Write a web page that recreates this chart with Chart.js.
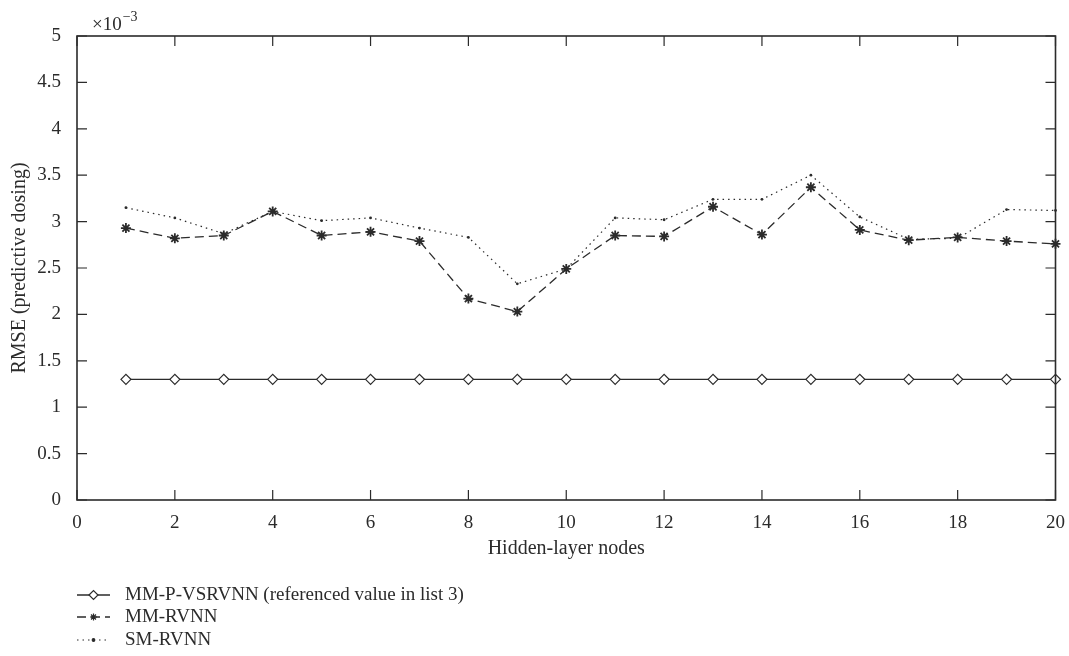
<!DOCTYPE html>
<html>
<head>
<meta charset="utf-8">
<title>RMSE vs hidden-layer nodes</title>
<script src="https://cdn.jsdelivr.net/npm/chart.js@4.4.0/dist/chart.umd.min.js"></script>
<style>
  html, body { margin: 0; padding: 0; background: #fff; }
  canvas { display: block; }
</style>
</head>
<body>
<canvas id="myChart" width="1069" height="656"></canvas>
<script>
// hidden-layer nodes
const nodes = [1, 2, 3, 4, 5, 6, 7, 8, 9, 10, 11, 12, 13, 14, 15, 16, 17, 18, 19, 20];

// RMSE values, in units of 1e-3
const mmPVsrvnn = [1.3, 1.3, 1.3, 1.3, 1.3, 1.3, 1.3, 1.3, 1.3, 1.3,
                   1.3, 1.3, 1.3, 1.3, 1.3, 1.3, 1.3, 1.3, 1.3, 1.3];
const mmRvnn = [2.93, 2.82, 2.85, 3.11, 2.85, 2.89, 2.79, 2.17, 2.03, 2.49,
                2.85, 2.84, 3.16, 2.86, 3.37, 2.91, 2.80, 2.83, 2.79, 2.76];
const smRvnn = [3.15, 3.04, 2.87, 3.11, 3.01, 3.04, 2.93, 2.83, 2.33, 2.49,
                3.04, 3.02, 3.24, 3.24, 3.50, 3.05, 2.81, 2.82, 3.13, 3.12];

const seriesNames = ['MM-P-VSRVNN (referenced value in list 3)', 'MM-RVNN', 'SM-RVNN'];
const xTicks = [0, 2, 4, 6, 8, 10, 12, 14, 16, 18, 20];
const yTicks = [0, 0.5, 1, 1.5, 2, 2.5, 3, 3.5, 4, 4.5, 5];

const xTitle = 'Hidden-layer nodes';
const yTitle = 'RMSE (predictive dosing)';

const FONT = "'Liberation Serif', 'DejaVu Serif', serif";
const INK = '#2b2b2b';

const toPoints = vals => nodes.map((n, i) => ({ x: n, y: vals[i] }));

// 축 제목, 안쪽 눈금, 범례 그리기
const decorations = {
    id: 'decorations',
    afterDraw(chart) {
        const ctx = chart.ctx;
        const a = chart.chartArea;
        const xs = chart.scales.x, ys = chart.scales.y;
        ctx.save();

        // box
        ctx.strokeStyle = INK;
        ctx.lineWidth = 1.6;
        ctx.strokeRect(a.left, a.top, a.right - a.left, a.bottom - a.top);

        // inward ticks
        ctx.lineWidth = 1.2;
        ctx.beginPath();
        xTicks.forEach(v => {
            const px = xs.getPixelForValue(v);
            ctx.moveTo(px, a.bottom); ctx.lineTo(px, a.bottom - 10);
            ctx.moveTo(px, a.top); ctx.lineTo(px, a.top + 10);
        });
        yTicks.forEach(v => {
            const py = ys.getPixelForValue(v);
            ctx.moveTo(a.left, py); ctx.lineTo(a.left + 10, py);
            ctx.moveTo(a.right, py); ctx.lineTo(a.right - 10, py);
        });
        ctx.stroke();

        ctx.fillStyle = INK;
        // x title
        ctx.font = '20px ' + FONT;
        ctx.textAlign = 'center';
        ctx.textBaseline = 'middle';
        ctx.fillText(xTitle, (a.left + a.right) / 2, 549);

        // y title
        ctx.save();
        ctx.translate(20, (a.top + a.bottom) / 2);
        ctx.rotate(-Math.PI / 2);
        ctx.fillText(yTitle, 0, 0);
        ctx.restore();

        // x10^-3
        ctx.textAlign = 'left';
        ctx.textBaseline = 'alphabetic';
        ctx.font = '19px ' + FONT;
        ctx.fillText('\u00d710', a.left + 15, a.top - 6);
        const w = ctx.measureText('\u00d710').width;
        ctx.font = '14px ' + FONT;
        ctx.fillText('\u22123', a.left + 15 + w + 1, a.top - 15);

        // legend
        const rows = [595, 617, 640];
        const legendRadius = [4.5, 3.5, 1.3];
        chart.data.datasets.forEach((ds, i) => {
            const y = rows[i];
            ctx.strokeStyle = ds.borderColor;
            ctx.lineWidth = ds.borderWidth;
            ctx.setLineDash(ds.borderDash || []);
            ctx.beginPath();
            ctx.moveTo(77, y); ctx.lineTo(110, y);
            ctx.stroke();
            ctx.setLineDash([]);
            ctx.fillStyle = ds.pointBackgroundColor;
            ctx.strokeStyle = ds.pointBorderColor;
            ctx.lineWidth = 1.2;
            Chart.helpers.drawPoint(ctx, {
                pointStyle: ds.pointStyle,
                radius: legendRadius[i],
                borderWidth: 1.2,
                rotation: 0
            }, 93.5, y);
            ctx.fillStyle = INK;
            ctx.font = '19px ' + FONT;
            ctx.textBaseline = 'middle';
            ctx.fillText(seriesNames[i], 125, y);
        });

        ctx.restore();
    }
};

const ctx = document.getElementById('myChart').getContext('2d');
const myChart = new Chart(ctx, {
    type: 'line',
    data: {
        datasets: [
            {
                label: seriesNames[0],
                data: toPoints(mmPVsrvnn),
                borderColor: INK,
                borderWidth: 1.3,
                pointStyle: 'rectRot',
                pointRadius: 5,
                pointBackgroundColor: '#fff',
                pointBorderColor: INK,
                pointBorderWidth: 1.2
            },
            {
                label: seriesNames[1],
                data: toPoints(mmRvnn),
                borderColor: INK,
                borderWidth: 1.3,
                borderDash: [9, 5],
                pointStyle: 'star',
                pointRadius: 5,
                pointBackgroundColor: INK,
                pointBorderColor: INK,
                pointBorderWidth: 1.8
            },
            {
                label: seriesNames[2],
                data: toPoints(smRvnn),
                borderColor: INK,
                borderWidth: 1.2,
                borderDash: [1.5, 4],
                pointStyle: 'circle',
                pointRadius: 1.4,
                pointBackgroundColor: INK,
                pointBorderColor: INK,
                pointBorderWidth: 0
            }
        ]
    },
    options: {
        responsive: false,
        animation: false,
        clip: false,
        layout: { padding: { top: 36, right: 13, left: 0, bottom: 0 } },
        plugins: {
            legend: { display: false },
            tooltip: { enabled: false }
        },
        scales: {
            x: {
                type: 'linear',
                min: 0,
                max: 20,
                grid: { display: false },
                border: { display: false },
                ticks: {
                    stepSize: 2,
                    color: INK,
                    font: { family: FONT, size: 19 },
                    padding: 4,
                    maxRotation: 0
                },
                afterFit(scale) { scale.height = 156; }
            },
            y: {
                min: 0,
                max: 5,
                grid: { display: false },
                border: { display: false },
                ticks: {
                    stepSize: 0.5,
                    color: INK,
                    font: { family: FONT, size: 19 },
                    padding: 8,
                    callback: v => String(v)
                },
                afterFit(scale) { scale.width = 77; }
            }
        }
    },
    plugins: [decorations]
});
</script>
</body>
</html>
